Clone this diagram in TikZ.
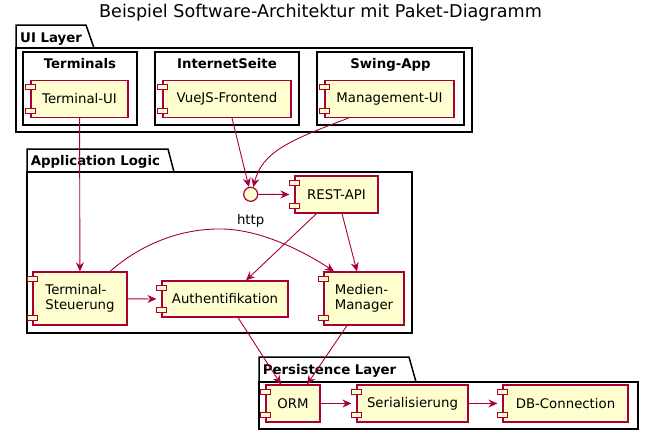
\documentclass[tikz,border=0pt]{standalone}
\usepackage{fontspec}
\setmainfont{DejaVu Sans}
\usetikzlibrary{arrows.meta}
\definecolor{umlred}{HTML}{A80036}
\definecolor{umlyellow}{HTML}{FEFECE}
\begin{document}
\begin{tikzpicture}[x=1pt,y=-1pt,
        comp/.style={draw=umlred,fill=umlyellow,line width=1.2pt,inner sep=0pt,minimum height=37,
            font=\fontsize{13.3}{15.2}\selectfont,align=left},
        pkgbox/.style={draw=black,line width=1.5pt,fill=white},
        pkgtitle/.style={font=\bfseries\fontsize{13.3}{15}\selectfont,inner sep=0pt},
        dep/.style={umlred,line width=0.9pt,-{Stealth[length=9pt,width=8pt,inset=3pt]}}]
    \useasboundingbox (0,0) rectangle (658,440);
    \node[font=\fontsize{17.6}{20}\selectfont] (title) at (320.5,12.5) {Beispiel Software-Architektur mit Paket-Diagramm};

    \draw[pkgbox] (16,25) -- (86,25) -- (94,48) -- (16,48) -- cycle;
    \draw[pkgbox] (16,48) rectangle (472,132);
    \node[pkgtitle,anchor=base west] (uilayer) at (20,42.3) {UI Layer};
    \draw[pkgbox] (23,52) rectangle (137,125);
    \node[pkgtitle,anchor=base] (terminals) at (80,68.5) {Terminals};
    \draw[pkgbox] (155,52) rectangle (299,125);
    \node[pkgtitle,anchor=base] (internet) at (227,68.5) {InternetSeite};
    \draw[pkgbox] (317,52) rectangle (464,125);
    \node[pkgtitle,anchor=base] (swing) at (390.5,68.5) {Swing-App};

    \draw[pkgbox] (27,149) -- (168,149) -- (174,172) -- (27,172) -- cycle;
    \draw[pkgbox] (27,172) rectangle (412,333);
    \node[pkgtitle,anchor=base west] (applogic) at (30.7,165.7) {Application Logic};

    \draw[pkgbox] (259,357) -- (409,357) -- (416,382) -- (259,382) -- cycle;
    \draw[pkgbox] (259,382) rectangle (638,429);
    \node[pkgtitle,anchor=base west] (persist) at (262.7,374) {Persistence Layer};

    \node[comp,minimum width=97] (tui) at (79.5,99) {Terminal-UI};
    \node[comp,minimum width=128] (vue) at (227,99) {VueJS-Frontend};
    \node[comp,minimum width=129] (mgmt) at (389.5,99) {Management-UI};
    \node[comp,minimum width=83] (rest) at (336.5,194.5) {REST-API};
    \node[comp,minimum width=94,minimum height=53] (tst) at (80,298.5) {Terminal-\\Steuerung};
    \node[comp,minimum width=126,minimum height=36] (auth) at (225,299) {Authentifikation};
    \node[comp,minimum width=80,minimum height=53] (med) at (364,298.5) {Medien-\\Manager};
    \node[comp,minimum width=54] (orm) at (293,403.5) {ORM};
    \node[comp,minimum width=111] (ser) at (412.5,403.5) {Serialisierung};
    \node[comp,minimum width=125] (db) at (565.5,403.5) {DB-Connection};
    \foreach \c in {tui,vue,mgmt,rest,tst,auth,med,orm,ser,db}{
        \draw[draw=umlred,fill=umlyellow,line width=1pt] ([shift={(-5,5)}]\c.north west) rectangle ++(10,5);
        \draw[draw=umlred,fill=umlyellow,line width=1pt] ([shift={(-5,-5)}]\c.south west) rectangle ++(10,-5);
    }

    \node[circle,draw=umlred,fill=umlyellow,line width=1.2pt,minimum size=14,inner sep=0pt] (http) at (250.7,194.3) {};
    \node[font=\fontsize{13.3}{15}\selectfont,anchor=base,inner sep=0pt] (httplabel) at (250.7,224.3) {http};

    \draw[dep] (tui) -- (tst);
    \draw[dep] ([xshift=5]vue.south) -- (http);
    \draw[dep] ([xshift=-41]mgmt.south) .. controls (290,140) and (262,152) .. (http.70);
    \draw[dep] (http) -- ([xshift=-5]rest.west);
    \draw[dep] ([xshift=-20]rest.south) -- ([xshift=21]auth.north);
    \draw[dep] ([xshift=5.5]rest.south) -- ([xshift=-7]med.north);
    \draw[dep] (tst) -- ([xshift=-5]auth.west);
    \draw[dep] ([xshift=30]tst.north) .. controls (140,245) and (180,228) .. (223,229)
        .. controls (262,230) and (305,252) .. ([xshift=-30]med.north);
    \draw[dep] ([xshift=13]auth.south) -- ([xshift=-12]orm.north);
    \draw[dep] ([xshift=-17]med.south) -- ([xshift=14]orm.north);
    \draw[dep] (orm) -- ([xshift=-5]ser.west);
    \draw[dep] (ser) -- ([xshift=-5]db.west);
\end{tikzpicture}
\end{document}
